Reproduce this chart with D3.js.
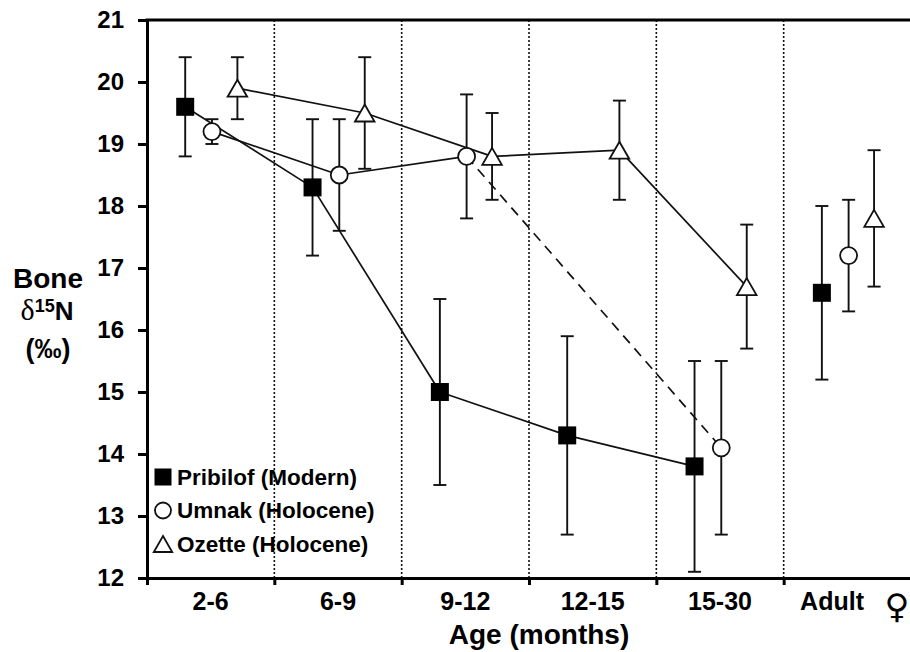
<!DOCTYPE html>
<html>
<head>
<meta charset="utf-8">
<script src="https://d3js.org/d3.v7.min.js"></script>
<style>
  body { margin: 0; background: #fff; }
  svg { display: block; }
</style>
</head>
<body>
<div id="chart"></div>
<script>
// age classes along the x axis
const ages = ["2-6", "6-9", "9-12", "12-15", "15-30", "Adult"];
const yTicks = [12, 13, 14, 15, 16, 17, 18, 19, 20, 21];

// mean bone d15N and error bar half-widths
const pribilof = [19.6, 18.3, 15.0, 14.3, 13.8, 16.6];
const pribilofErr = [0.8, 1.1, 1.5, 1.6, 1.7, 1.4];
const umnak = [19.2, 18.5, 18.8, null, 14.1, 17.2];
const umnakErr = [0.2, 0.9, 1.0, null, 1.4, 0.9];
const ozette = [19.9, 19.5, 18.8, 18.9, 16.7, 17.8];
const ozetteErr = [0.5, 0.9, 0.7, 0.8, 1.0, 1.1];

const seriesNames = ["Pribilof (Modern)", "Umnak (Holocene)", "Ozette (Holocene)"];

const W = 910, H = 652;
const pLeft = 147, pRight = 911, pTop = 20, pBottom = 578;
const font = "'Liberation Sans', Arial, Helvetica, sans-serif";

const svg = d3.select("#chart").append("svg")
  .attr("width", W)
  .attr("height", H)
  .style("font-family", font);

const x = d3.scaleBand().domain(ages).range([pLeft, pRight]).paddingInner(0).paddingOuter(0);
const xLin = d3.scaleLinear().domain([0, ages.length]).range([pLeft, pRight]);
const y = d3.scaleLinear().domain([12, 21]).range([pBottom, pTop]);
const bw = x.bandwidth();

// dotted separators between age classes
svg.append("g")
  .selectAll("line")
  .data(d3.range(1, ages.length))
  .join("line")
  .attr("x1", d => xLin(d)).attr("x2", d => xLin(d))
  .attr("y1", pTop).attr("y2", pBottom)
  .attr("stroke", "#111")
  .attr("stroke-width", 1.6)
  .attr("stroke-dasharray", "2,2");

const series = [
  { name: seriesNames[0], vals: pribilof, err: pribilofErr, off: 0.30, shape: "square" },
  { name: seriesNames[1], vals: umnak, err: umnakErr, off: 0.51, shape: "circle" },
  { name: seriesNames[2], vals: ozette, err: ozetteErr, off: 0.71, shape: "triangle" }
];

series.forEach(s => {
  s.pts = s.vals.map((v, i) => ({ i, age: ages[i], v, e: s.err[i] }))
    .filter(p => p.v != null);
});

const px = (s, p) => x(p.age) + bw * s.off;

// connecting lines (juveniles only, adults stand alone)
const lineG = svg.append("g");
series.forEach(s => {
  const juv = s.pts.filter(p => p.age !== "Adult");
  for (let k = 1; k < juv.length; k++) {
    const a = juv[k - 1], b = juv[k];
    lineG.append("line")
      .attr("x1", px(s, a)).attr("y1", y(a.v))
      .attr("x2", px(s, b)).attr("y2", y(b.v))
      .attr("stroke", "#111")
      .attr("stroke-width", 1.7)
      .attr("stroke-dasharray", b.i - a.i > 1 ? "10,7" : null);
  }
});

// error bars
const capW = 13;
series.forEach(s => {
  const g = svg.append("g").attr("stroke", "#111").attr("stroke-width", 1.9);
  s.pts.forEach(p => {
    const cx = px(s, p);
    g.append("line").attr("x1", cx).attr("x2", cx).attr("y1", y(p.v - p.e)).attr("y2", y(p.v + p.e));
    g.append("line").attr("x1", cx - capW / 2).attr("x2", cx + capW / 2).attr("y1", y(p.v + p.e)).attr("y2", y(p.v + p.e));
    g.append("line").attr("x1", cx - capW / 2).attr("x2", cx + capW / 2).attr("y1", y(p.v - p.e)).attr("y2", y(p.v - p.e));
  });
});

function drawMarker(g, shape, cx, cy, size) {
  if (shape === "square") {
    g.append("rect")
      .attr("x", cx - size / 2).attr("y", cy - size / 2)
      .attr("width", size).attr("height", size)
      .attr("fill", "#000");
  } else if (shape === "circle") {
    g.append("circle")
      .attr("cx", cx).attr("cy", cy).attr("r", size / 2)
      .attr("fill", "#fff").attr("stroke", "#111").attr("stroke-width", 1.8);
  } else {
    const w = size * 1.15, h = size;
    g.append("path")
      .attr("d", `M${cx},${cy - h / 2}L${cx + w / 2},${cy + h / 2}L${cx - w / 2},${cy + h / 2}Z`)
      .attr("fill", "#fff").attr("stroke", "#111").attr("stroke-width", 1.8)
      .attr("stroke-linejoin", "miter");
  }
}

const markG = svg.append("g");
series.forEach(s => {
  s.pts.forEach(p => drawMarker(markG, s.shape, px(s, p), y(p.v), s.shape === "square" ? 18 : 17));
});

// axes
const yAxis = svg.append("g")
  .attr("transform", `translate(${pLeft},0)`)
  .call(d3.axisLeft(y).tickValues(yTicks).tickSize(9).tickPadding(14).tickFormat(d3.format("d")));
yAxis.select(".domain").attr("stroke-width", 3).attr("stroke", "#000");
yAxis.selectAll(".tick line").attr("stroke-width", 3).attr("stroke", "#000");
yAxis.selectAll(".tick text")
  .style("font-size", "24px").style("font-weight", "bold").style("font-family", font).attr("fill", "#000");

const xAxis = svg.append("g")
  .attr("transform", `translate(0,${pBottom})`)
  .call(d3.axisBottom(xLin).tickValues(d3.range(0, ages.length)).tickSize(7).tickFormat(""));
xAxis.select(".domain").attr("stroke-width", 3).attr("stroke", "#000");
xAxis.selectAll(".tick line").attr("stroke-width", 3).attr("stroke", "#000");

// top frame line
svg.append("line")
  .attr("x1", pLeft - 1.5).attr("x2", pRight)
  .attr("y1", pTop).attr("y2", pTop)
  .attr("stroke", "#000").attr("stroke-width", 3);

// category labels
svg.append("g")
  .selectAll("text")
  .data(ages)
  .join("text")
  .attr("x", d => d === "Adult" ? x(d) + bw * 0.38 : x(d) + bw / 2)
  .attr("y", 610)
  .attr("text-anchor", "middle")
  .style("font-size", "25px")
  .style("font-weight", "bold")
  .text(d => d);

svg.append("text")
  .attr("x", x("Adult") + bw * 0.89)
  .attr("y", 618)
  .attr("text-anchor", "middle")
  .style("font-family", "'DejaVu Sans', sans-serif")
  .style("font-size", "34px")
  .text("\u2640");

svg.append("text")
  .attr("x", 539)
  .attr("y", 644)
  .attr("text-anchor", "middle")
  .style("font-size", "28px")
  .style("font-weight", "bold")
  .text("Age (months)");

// y axis title
const yt = svg.append("g").attr("text-anchor", "middle").style("font-weight", "bold");
yt.append("text").attr("x", 48).attr("y", 288).style("font-size", "28px").text("Bone");
const d15 = yt.append("text").attr("x", 47).attr("y", 320).style("font-size", "26px");
d15.append("tspan").style("font-family", "'Liberation Serif', 'DejaVu Serif', serif").style("font-weight", "normal").style("font-size", "30px").text("\u03b4");
d15.append("tspan").attr("dy", -8).style("font-size", "18px").text("15");
d15.append("tspan").attr("dy", 8).text("N");
yt.append("text").attr("x", 48).attr("y", 358).style("font-size", "27px").text("(\u2030)");

// legend
const leg = svg.append("g");
series.forEach((s, i) => {
  const cy = 477 + i * 33.5;
  drawMarker(leg, s.shape, 163, cy, s.shape === "square" ? 17 : 16);
  leg.append("text")
    .attr("x", 177)
    .attr("y", cy + 7.5)
    .style("font-size", "22.5px")
    .style("font-weight", "bold")
    .text(s.name);
});
</script>
</body>
</html>
